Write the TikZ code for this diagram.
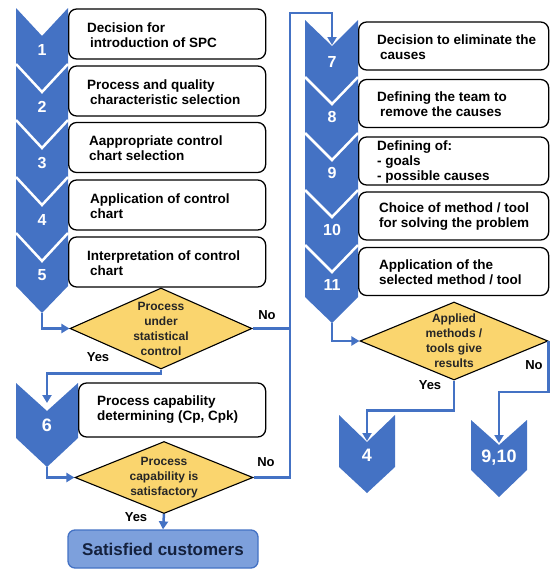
\documentclass[tikz,border=0pt]{standalone}
\usepackage{fontspec}
\setmainfont{Liberation Sans}
\usetikzlibrary{arrows.meta,calc,shapes.geometric}
\definecolor{cblue}{RGB}{68,114,196}
\definecolor{dfill}{RGB}{250,213,110}
\definecolor{sfill}{RGB}{125,160,220}
\definecolor{navy}{RGB}{20,33,61}
\begin{document}
\begin{tikzpicture}[x=1pt,y=-1pt,
  stepbox/.style={draw=black, line width=1.3pt, fill=white, rounded corners=8pt, inner sep=0pt, anchor=west},
  btxt/.style={font=\bfseries\fontsize{13.5}{15}\selectfont, align=left, inner sep=0pt, anchor=west, text=black},
  chev/.style={fill=cblue},
  sep/.style={draw=white, line width=2.5pt},
  num/.style={font=\bfseries\fontsize{16}{18}\selectfont, text=white, inner sep=0pt},
  bignum/.style={font=\bfseries\fontsize{18}{20}\selectfont, text=white, inner sep=0pt},
  dec/.style={diamond, draw=black, line width=1.1pt, fill=dfill, inner sep=0pt},
  dtxt/.style={font=\bfseries\fontsize{12}{15}\selectfont, align=center, inner sep=0pt, text=black!85},
  lbl/.style={font=\bfseries\fontsize{13}{15}\selectfont, inner sep=0pt},
  line/.style={draw=cblue, line width=2.5pt},
  conn/.style={line, -{Triangle[length=8pt,width=9pt]}},
]
\useasboundingbox (0,0) rectangle (550,570);

% ---------- left column chevrons ----------
\fill[chev] (16,8) -- (42,36) -- (68,8) -- (68,286) -- (42,313) -- (16,286) -- cycle;
\foreach \y in {64,120,177,233} {\draw[sep] (16,\y) -- (42,\y+28) -- (68,\y);}
\coordinate (c5tip) at (42,313);

% ---------- left column boxes ----------
\node[stepbox, minimum width=197pt, minimum height=50pt] (b1) at (68,34) {};
\node[stepbox, minimum width=197pt, minimum height=50pt] (b2) at (68,91) {};
\node[stepbox, minimum width=197pt, minimum height=50pt] (b3) at (68,147.5) {};
\node[stepbox, minimum width=197pt, minimum height=50pt] (b4) at (68,205) {};
\node[stepbox, minimum width=197pt, minimum height=50pt] (b5) at (68,262) {};
\node[btxt] (t1) at ($(b1.west)+(19,1)$) {Decision for\\\hspace{3pt}introduction of SPC};
\node[btxt] (t2) at ($(b2.west)+(19,1)$) {Process and quality\\\hspace{3pt}characteristic selection};
\node[btxt] (t3) at ($(b3.west)+(21,1)$) {Aappropriate control\\chart selection};
\node[btxt] (t4) at ($(b4.west)+(22,1)$) {Application of control\\chart};
\node[btxt] (t5) at ($(b5.west)+(19,1)$) {Interpretation of control\\\hspace{3pt}chart};

\node[num] (n1) at (42,50) {1};
\node[num] (n2) at (42,107) {2};
\node[num] (n3) at (42,163) {3};
\node[num] (n4) at (42,220) {4};
\node[num] (n5) at (42,275) {5};

% ---------- decision 1 ----------
\node[dec, minimum width=182pt, minimum height=81pt] (d1) at (161,328.5) {};
\node[dtxt] (d1t) at (d1.center) {Process\\under\\statistical\\control};

% ---------- step 6 ----------
\fill[chev] (16,383) -- (47,411) -- (78,383) -- (78,438) -- (47,467) -- (16,438) -- cycle;
\coordinate (c6in) at (47,403);
\coordinate (c6tip) at (47,467);
\node[stepbox, minimum width=187pt, minimum height=54pt] (b6) at (78,410) {};
\node[btxt] (t6) at ($(b6.west)+(19,0)$) {Process capability\\determining (Cp, Cpk)};
\node[bignum] (n6) at (47,425) {6};

% ---------- decision 2 ----------
\node[dec, minimum width=178pt, minimum height=72pt] (d2) at (164,477.5) {};
\node[dtxt] (d2t) at (d2.center) {Process\\capability is\\satisfactory};

% ---------- satisfied customers ----------
\node[draw=cblue, line width=1.3pt, fill=sfill, rounded corners=7pt, minimum width=190pt, minimum height=38pt, inner sep=0pt,
  font=\bfseries\fontsize{17}{19}\selectfont, text=navy] (sat) at (163,549) {Satisfied customers};

% ---------- right column chevrons ----------
\fill[chev] (305,20) -- (332,46) -- (358,20) -- (358,297) -- (332,323) -- (305,297) -- cycle;
\foreach \y in {77,133,190,245} {\draw[sep] (305,\y) -- (332,\y+27) -- (358,\y);}
\coordinate (c7in) at (332,45);
\coordinate (c11tip) at (332,323);

% ---------- right column boxes ----------
\node[stepbox, minimum width=190pt, minimum height=48pt] (b7) at (358,46) {};
\node[stepbox, minimum width=190pt, minimum height=48pt] (b8) at (358,103.5) {};
\node[stepbox, minimum width=190pt, minimum height=48pt] (b9) at (358,161) {};
\node[stepbox, minimum width=190pt, minimum height=48pt] (b10) at (358,216) {};
\node[stepbox, minimum width=190pt, minimum height=48pt] (b11) at (358,271.5) {};
\node[btxt] (t7) at ($(b7.west)+(19,1)$) {Decision to eliminate the\\\hspace{3pt}causes};
\node[btxt] (t8) at ($(b8.west)+(19,1)$) {Defining the team to\\\hspace{3pt}remove the causes};
\node[btxt] (t9) at ($(b9.west)+(19,1)$) {Defining of:\\- goals\\- possible causes};
\node[btxt] (t10) at ($(b10.west)+(21,1)$) {Choice of method / tool\\for solving the problem};
\node[btxt] (t11) at ($(b11.west)+(21,1)$) {Application of the\\selected method / tool};

\node[num] (n7) at (332,62) {7};
\node[num] (n8) at (332,117) {8};
\node[num] (n9) at (332,173) {9};
\node[num] (n10) at (332,230) {10};
\node[num] (n11) at (332,285) {11};

% ---------- decision 3 ----------
\node[dec, minimum width=188pt, minimum height=78pt] (d3) at (454,341) {};
\node[dtxt] (d3t) at (d3.center) {Applied\\methods /\\tools give\\results};

% ---------- target chevrons ----------
\fill[chev] (339,415) -- (367,442) -- (395,415) -- (395,467) -- (367,493) -- (339,467) -- cycle;
\fill[chev] (471,420) -- (499,445) -- (527,420) -- (527,470) -- (499,497) -- (471,470) -- cycle;
\coordinate (c4in) at (367,441);
\coordinate (c910in) at (499,443);
\node[bignum] (n4b) at (367,455) {4};
\node[bignum] (n910) at (499,458) {9,10};

% ---------- connectors ----------
\coordinate (jtop) at (290,13);
\draw[conn] (c5tip) |- (d1.west);
\draw[conn] (d1.south) -- ++(0,4) -| (c6in);
\draw[conn] (c6tip) |- (d2.west);
\draw[conn] (d2.south) -- (sat.north);
\draw[line] (d1.east) -- (d1.east -| jtop);
\draw[conn] (d2.east) -| (jtop) -| (c7in);
\draw[conn] (c11tip) |- (d3.west);
\draw[conn] (d3.south) -- ++(0,30) -| (c4in);
\draw[conn] (d3.east) -- ++(0,51) -| (c910in);

% ---------- labels ----------
\node[lbl] (l1no) at (267,315) {No};
\node[lbl] (l1yes) at (98,357) {Yes};
\node[lbl] (l2no) at (266,462) {No};
\node[lbl] (l2yes) at (136,517) {Yes};
\node[lbl] (l3no) at (534,365) {No};
\node[lbl] (l3yes) at (430,385) {Yes};
\end{tikzpicture}
\end{document}
